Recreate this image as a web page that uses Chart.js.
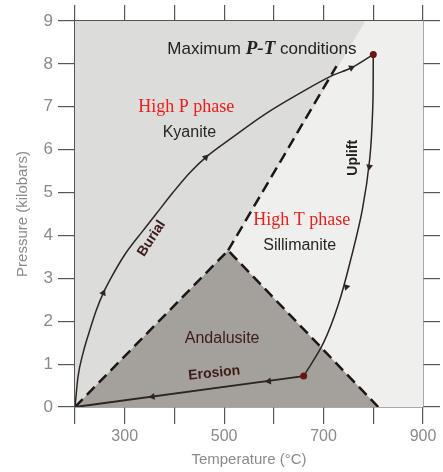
<!DOCTYPE html>
<html>
<head>
<meta charset="utf-8">
<script src="https://cdn.jsdelivr.net/npm/chart.js@4.4.1/dist/chart.umd.min.js"></script>
<style>
  html, body { margin: 0; padding: 0; background: #fff; }
  #wrap { width: 443px; height: 472px; }
</style>
</head>
<body>
<div id="wrap"><canvas id="pt-chart" width="443" height="472"></canvas></div>
<script>
// phase boundaries (temperature in C, pressure in kbar)
const KYANITE_EDGE_T = [200, 508, 784];
const KYANITE_EDGE_P = [0, 3.65, 9];
const ANDALUSITE_T = [200, 508, 810];
const ANDALUSITE_P = [0, 3.65, 0];
const KY_SIL_T = [508, 726];
const KY_SIL_P = [3.65, 7.95];

// P-T path
const BURIAL_T = [200, 206, 216, 230, 243, 257, 272, 300, 336, 363, 397, 430, 463, 516, 584, 650, 716, 756, 800];
const BURIAL_P = [0, 0.7, 1.25, 1.8, 2.26, 2.66, 3.0, 3.55, 4.1, 4.5, 5.0, 5.45, 5.82, 6.28, 6.84, 7.3, 7.72, 7.91, 8.22];
const UPLIFT_T = [800, 799, 793, 778, 756, 730, 700, 660];
const UPLIFT_P = [8.22, 7, 5.8, 4.6, 3.5, 2.4, 1.5, 0.72];
const EROSION_T = [660, 200];
const EROSION_P = [0.72, 0];

const MARKER_T = [800, 660];
const MARKER_P = [8.22, 0.72];

const ARROW_T = [257, 463, 756, 792, 746, 590, 356];
const ARROW_P = [2.66, 5.82, 7.91, 5.6, 2.8, 0.6, 0.24];
const ARROW_DIR = [25, 46, 66, 188, 198, 262, 262];

const X_LABELED = [300, 500, 700, 900];

const AXIS_GRAY = '#8a8a8a';
const LINE_DARK = '#2e2422';
const BROWN = '#3b1c18';

// text placed on the diagram (data coords)
const NOTES = [
    { text: 'High P phase', t: 424, p: 6.98, font: '18px "Liberation Serif"', color: '#ee1c1c' },
    { text: 'Kyanite', t: 430, p: 6.40, font: '16px "Liberation Sans"', color: '#262626' },
    { text: 'High T phase', t: 656, p: 4.35, font: '18px "Liberation Serif"', color: '#ee1c1c' },
    { text: 'Sillimanite', t: 652, p: 3.77, font: '16px "Liberation Sans"', color: '#262626' },
    { text: 'Andalusite', t: 496, p: 1.60, font: '16px "Liberation Sans"', color: BROWN },
    { text: 'Erosion', t: 480, p: 0.79, font: 'bold 14px "Liberation Sans"', color: BROWN, rot: -6 },
    { text: 'Burial', t: 354, p: 3.93, font: 'bold 14px "Liberation Sans"', color: BROWN, rot: -57 },
    { text: 'Uplift', t: 760, p: 5.81, font: 'bold 14px "Liberation Sans"', color: '#222', rot: -90 }
];

function pts(xs, ys) {
    return xs.map((x, i) => ({ x: x, y: ys[i] }));
}

function areaBackgroundPlugin() {
    return {
        id: 'areaBackground',
        beforeDatasetsDraw(chart) {
            const { ctx, chartArea: a } = chart;
            ctx.save();
            ctx.fillStyle = '#efefed';
            ctx.fillRect(a.left, a.top, a.right - a.left, a.bottom - a.top);
            ctx.restore();
        }
    };
}

function notesPlugin() {
    return {
        id: 'notes',
        afterDatasetsDraw(chart) {
            const { ctx, scales: { x, y } } = chart;
            ctx.save();
            ctx.textAlign = 'center';
            ctx.textBaseline = 'middle';
            NOTES.forEach(n => {
                ctx.save();
                ctx.translate(x.getPixelForValue(n.t), y.getPixelForValue(n.p));
                if (n.rot) ctx.rotate(n.rot * Math.PI / 180);
                ctx.font = n.font;
                ctx.fillStyle = n.color;
                ctx.fillText(n.text, 0, 0);
                ctx.restore();
            });

            // "Maximum P-T conditions" with the italic serif P-T
            const parts = [
                ['Maximum ', '17px "Liberation Sans"'],
                ['P-T', 'bold italic 19px "Liberation Serif"'],
                [' conditions', '17px "Liberation Sans"']
            ];
            let total = 0;
            parts.forEach(p => { ctx.font = p[1]; total += ctx.measureText(p[0]).width; });
            let cx = x.getPixelForValue(576) - total / 2;
            const cy = y.getPixelForValue(8.35);
            ctx.textAlign = 'left';
            ctx.fillStyle = '#222';
            parts.forEach(p => {
                ctx.font = p[1];
                ctx.fillText(p[0], cx, cy);
                cx += ctx.measureText(p[0]).width;
            });
            ctx.restore();
        }
    };
}

function edgeScale(position, min, max, step, size, tick) {
    return {
        type: 'linear',
        position: position,
        min: min,
        max: max,
        ticks: { stepSize: step, display: false },
        grid: { drawOnChartArea: false, tickLength: tick, color: '#555', lineWidth: 1.2 },
        border: { color: '#555', width: 1.5 },
        afterFit(s) {
            if (s.isHorizontal()) s.height = size; else s.width = size;
        }
    };
}

const lineBase = { showLine: true, pointRadius: 0, fill: false, tension: 0 };

new Chart(document.getElementById('pt-chart'), {
    type: 'scatter',
    data: {
        datasets: [
            Object.assign({}, lineBase, {
                data: pts(MARKER_T, MARKER_P), showLine: false, pointRadius: 3.5,
                pointBackgroundColor: '#6a1510', pointBorderWidth: 0, order: 0
            }),
            Object.assign({}, lineBase, {
                data: pts(ARROW_T, ARROW_P), showLine: false, pointRadius: 4,
                pointStyle: 'triangle', pointRotation: ARROW_DIR,
                pointBackgroundColor: LINE_DARK, pointBorderWidth: 0, order: 0
            }),
            Object.assign({}, lineBase, {
                data: pts(BURIAL_T, BURIAL_P), cubicInterpolationMode: 'monotone',
                borderColor: LINE_DARK, borderWidth: 1.5, order: 1
            }),
            Object.assign({}, lineBase, {
                data: pts(UPLIFT_T, UPLIFT_P), tension: 0.35,
                borderColor: LINE_DARK, borderWidth: 1.5, order: 1
            }),
            Object.assign({}, lineBase, {
                data: pts(EROSION_T, EROSION_P),
                borderColor: LINE_DARK, borderWidth: 2, order: 1
            }),
            Object.assign({}, lineBase, {
                data: pts(KY_SIL_T, KY_SIL_P),
                borderColor: '#1e1614', borderWidth: 2.5, borderDash: [11, 6], order: 2
            }),
            Object.assign({}, lineBase, {
                data: pts(ANDALUSITE_T, ANDALUSITE_P),
                borderColor: '#1e1614', borderWidth: 2.5, borderDash: [11, 6], order: 2
            }),
            Object.assign({}, lineBase, {
                data: pts(ANDALUSITE_T, ANDALUSITE_P), fill: 'origin',
                backgroundColor: '#a4a09c', borderWidth: 0, order: 10
            }),
            Object.assign({}, lineBase, {
                data: pts(KYANITE_EDGE_T, KYANITE_EDGE_P), fill: 'end',
                backgroundColor: '#dcdcda', borderWidth: 0, order: 10
            })
        ]
    },
    options: {
        responsive: false,
        animation: false,
        events: [],
        layout: { padding: 0 },
        plugins: { legend: { display: false }, tooltip: { enabled: false } },
        scales: {
            x: {
                type: 'linear',
                position: 'bottom',
                min: 200,
                max: 900,
                ticks: {
                    stepSize: 100,
                    color: AXIS_GRAY,
                    font: { family: '"Liberation Sans"', size: 16 },
                    padding: 3,
                    maxRotation: 0,
                    autoSkip: false,
                    callback: v => X_LABELED.includes(v) ? String(v) : ''
                },
                grid: { drawOnChartArea: false, tickLength: 17, color: '#555', lineWidth: 1.2 },
                border: { color: '#555', width: 1.5 },
                title: {
                    display: true,
                    text: 'Temperature (°C)',
                    color: AXIS_GRAY,
                    font: { family: '"Liberation Sans"', size: 15 },
                    padding: { top: 0, bottom: 3 }
                },
                afterFit(s) { s.height = 65; }
            },
            y: {
                type: 'linear',
                position: 'left',
                min: 0,
                max: 9,
                ticks: {
                    stepSize: 1,
                    color: AXIS_GRAY,
                    font: { family: '"Liberation Sans"', size: 17 },
                    padding: 5
                },
                grid: { drawOnChartArea: false, tickLength: 17, color: '#555', lineWidth: 1.2 },
                border: { color: '#555', width: 1.5 },
                title: {
                    display: true,
                    text: 'Pressure (kilobars)',
                    color: AXIS_GRAY,
                    font: { family: '"Liberation Sans"', size: 15 },
                    padding: { top: 14, bottom: 0 }
                },
                afterFit(s) { s.width = 75; }
            },
            xTop: edgeScale('top', 200, 900, 100, 21, 16),
            yRight: edgeScale('right', 0, 9, 1, 20, 17)
        }
    },
    plugins: [areaBackgroundPlugin(), notesPlugin()]
});
</script>
</body>
</html>
